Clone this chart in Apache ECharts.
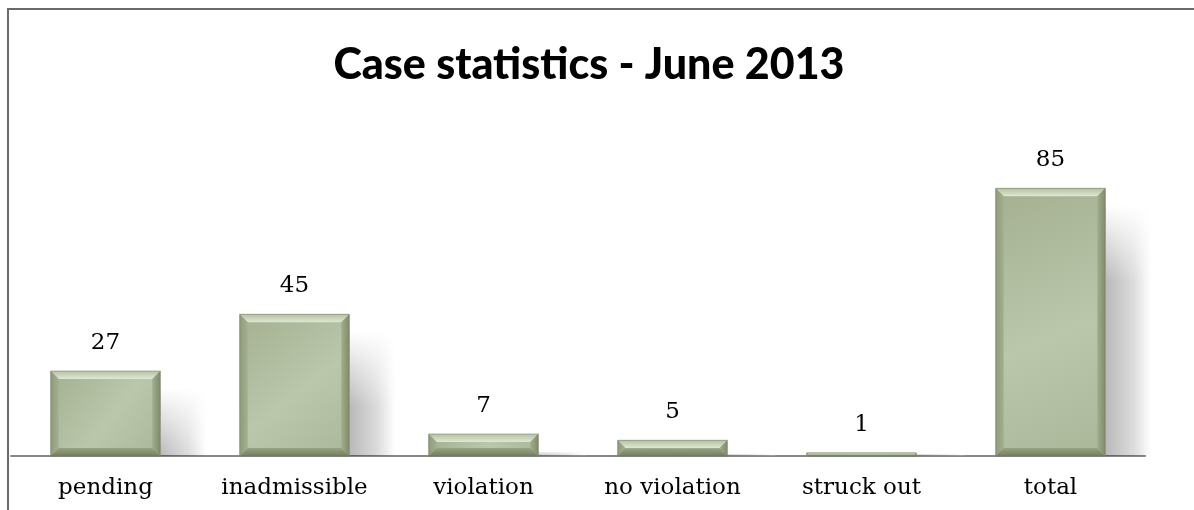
<!DOCTYPE html>
<html>
<head>
<meta charset="utf-8">
<script src="https://cdn.jsdelivr.net/npm/echarts@6/dist/echarts.min.js"></script>
<style>
html,body{margin:0;padding:0;background:#fff;}
#chart{width:1194px;height:510px;}
</style>
</head>
<body>
<div id="chart"></div>
<script>
var titleText = 'Case statistics - June 2013';
var categories = ['pending', 'inadmissible', 'violation', 'no violation', 'struck out', 'total'];
var values = [27, 45, 7, 5, 1, 85];

var chart = echarts.init(document.getElementById('chart'));

function renderBar(params, api) {
  var cat = api.value(0), val = api.value(1);
  var topPt = api.coord([cat, val]);
  var basePt = api.coord([cat, 0]);
  var bw = api.size([1, 0])[0] * 0.58;
  var left = topPt[0] - bw / 2;
  var right = left + bw;
  var top = topPt[1];
  var bottom = basePt[1];
  var h = bottom - top;
  var b = Math.min(8, h / 2);
  var children = [];
  var sw = 46;
  var sTop = Math.min(top + 18, bottom - 2);
  children.push({
    type: 'rect',
    shape: { x: right, y: sTop, width: sw, height: bottom - sTop },
    style: { fill: new echarts.graphic.LinearGradient(0, 0, 1, 0, [
      { offset: 0, color: 'rgba(0,0,0,0.28)' },
      { offset: 0.6, color: 'rgba(0,0,0,0.14)' },
      { offset: 1, color: 'rgba(0,0,0,0.0)' }
    ]) },
    silent: true
  });
  var fadeH = Math.min(75, bottom - sTop);
  children.push({
    type: 'rect',
    shape: { x: right, y: sTop - 1, width: sw + 2, height: fadeH + 1 },
    style: { fill: new echarts.graphic.LinearGradient(0, 0, 0, 1, [
      { offset: 0, color: 'rgba(255,255,255,1)' },
      { offset: 1, color: 'rgba(255,255,255,0)' }
    ]) },
    silent: true
  });
  children.push({
    type: 'rect',
    shape: { x: left, y: top, width: bw, height: h },
    style: { fill: new echarts.graphic.LinearGradient(0, 0, 1, 1, [
      { offset: 0, color: '#a4b090' },
      { offset: 0.55, color: '#bac7ab' },
      { offset: 1, color: '#aab799' }
    ]) }
  });
  children.push({
    type: 'polygon',
    shape: { points: [[left, top], [right, top], [right - b, top + b], [left + b, top + b]] },
    style: { fill: new echarts.graphic.LinearGradient(0, 0, 0, 1, [
      { offset: 0, color: '#b4c0a2' },
      { offset: 1, color: '#dfe8d2' }
    ]) }
  });
  children.push({
    type: 'polygon',
    shape: { points: [[left, top], [left + b, top + b], [left + b, bottom - b], [left, bottom]] },
    style: { fill: new echarts.graphic.LinearGradient(0, 0, 1, 0, [
      { offset: 0, color: '#8f9b7b' },
      { offset: 1, color: '#a3af8f' }
    ]) }
  });
  children.push({
    type: 'polygon',
    shape: { points: [[right, top], [right, bottom], [right - b, bottom - b], [right - b, top + b]] },
    style: { fill: new echarts.graphic.LinearGradient(0, 0, 1, 0, [
      { offset: 0, color: '#a1ad8d' },
      { offset: 1, color: '#7f8b6b' }
    ]) }
  });
  children.push({
    type: 'polygon',
    shape: { points: [[left, bottom], [left + b, bottom - b], [right - b, bottom - b], [right, bottom]] },
    style: { fill: new echarts.graphic.LinearGradient(0, 0, 0, 1, [
      { offset: 0, color: '#97a383' },
      { offset: 1, color: '#747f60' }
    ]) }
  });
  children.push({
    type: 'rect',
    shape: { x: left, y: top, width: bw, height: h },
    style: { fill: null, stroke: 'rgba(100,110,82,0.45)', lineWidth: 1 }
  });
  children.push({
    type: 'text',
    style: {
      text: String(val),
      x: topPt[0], y: top - 28,
      align: 'center', verticalAlign: 'middle',
      font: '23px "DejaVu Serif"', fill: '#000'
    }
  });
  return { type: 'group', children: children };
}

chart.setOption({
  backgroundColor: '#fff',
  animation: false,
  title: {
    text: titleText,
    left: 584, top: 39, textAlign: 'center',
    textStyle: { fontFamily: 'Lato', fontWeight: 900, fontSize: 43, color: '#000' }
  },
  graphic: [
    { type: 'line', shape: { x1: 8, y1: 9, x2: 1194, y2: 9 },
      style: { stroke: '#6a6a6a', lineWidth: 2 }, silent: true },
    { type: 'line', shape: { x1: 8, y1: 8, x2: 8, y2: 510 },
      style: { stroke: '#6a6a6a', lineWidth: 2 }, silent: true }
  ],
  grid: { left: 11, right: 49, top: 141, bottom: 54 },
  xAxis: {
    type: 'category',
    data: categories,
    axisLine: { lineStyle: { color: '#888', width: 2 } },
    axisTick: { show: false },
    axisLabel: { interval: 0, fontFamily: 'DejaVu Serif', fontSize: 23, color: '#000', margin: 21 }
  },
  yAxis: {
    type: 'value', min: 0, max: 100,
    show: false, splitLine: { show: false }
  },
  series: [{
    type: 'custom',
    renderItem: renderBar,
    data: values.map(function (v, i) { return [i, v]; }),
    encode: { x: 0, y: 1 },
    z: 3
  }]
});
</script>
</body>
</html>
